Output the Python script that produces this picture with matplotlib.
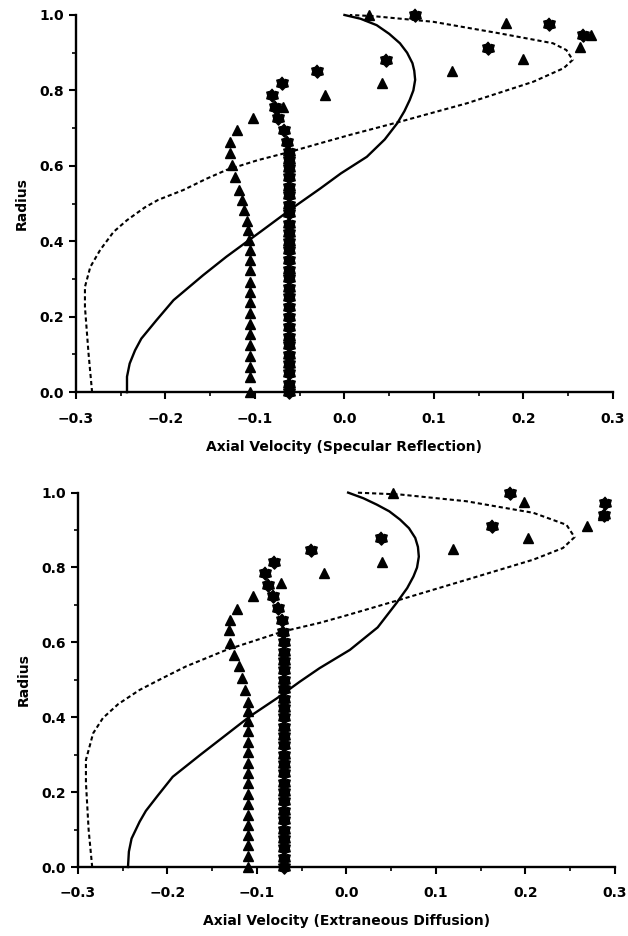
import matplotlib
matplotlib.use("Agg")
import matplotlib.pyplot as plt
from matplotlib.ticker import MultipleLocator
import numpy as np

plt.rcParams['font.family'] = ['DejaVu Sans']
plt.rcParams['font.weight'] = 'bold'
plt.rcParams['axes.labelweight'] = 'bold'

# ---------- top panel: specular reflection ----------
top_solid_r = [0.0, 0.041, 0.076, 0.111, 0.142, 0.191, 0.244, 0.31, 0.359, 0.399, 0.425,
               0.49, 0.54, 0.58, 0.624, 0.67, 0.713, 0.745, 0.775, 0.80, 0.828, 0.852, 0.872,
               0.90, 0.925, 0.95, 0.973, 0.99, 1.0]
top_solid_v = [-0.243, -0.243, -0.240, -0.234, -0.227, -0.210, -0.191, -0.158, -0.132, -0.109, -0.094,
               -0.057, -0.027, -0.004, 0.025, 0.045, 0.059, 0.067, 0.073, 0.077, 0.079, 0.078, 0.076,
               0.070, 0.062, 0.050, 0.036, 0.018, 0.0]

top_dash_r = [0.0, 0.103, 0.226, 0.279, 0.332, 0.377, 0.425, 0.456, 0.49, 0.51, 0.536, 0.565,
              0.589, 0.615, 0.637, 0.66, 0.682, 0.717, 0.766, 0.823, 0.859, 0.881, 0.907, 0.925,
              0.951, 0.982, 0.997, 1.0]
top_dash_v = [-0.282, -0.286, -0.290, -0.290, -0.284, -0.273, -0.258, -0.243, -0.223, -0.208, -0.180, -0.155,
              -0.132, -0.097, -0.061, -0.027, 0.006, 0.062, 0.137, 0.211, 0.245, 0.255, 0.248, 0.233,
              0.174, 0.099, 0.032, 0.006]

top_tri_r = [0.0, 0.04, 0.067, 0.097, 0.125, 0.155, 0.182, 0.21, 0.24, 0.266, 0.293, 0.323, 0.35,
             0.377, 0.403, 0.43, 0.455, 0.482, 0.509, 0.537, 0.571, 0.602, 0.633, 0.662, 0.695,
             0.726, 0.757, 0.788, 0.819, 0.852, 0.882, 0.916, 0.947, 0.978, 1.0]
top_tri_v = [-0.106, -0.106, -0.106, -0.106, -0.106, -0.106, -0.106, -0.106, -0.106, -0.106, -0.106, -0.106, -0.106,
             -0.106, -0.107, -0.108, -0.109, -0.112, -0.115, -0.118, -0.122, -0.126, -0.128, -0.128, -0.120,
             -0.102, -0.069, -0.022, 0.042, 0.120, 0.200, 0.263, 0.275, 0.181, 0.027]

top_star_r = [0.0, 0.023, 0.05, 0.076, 0.098, 0.125, 0.147, 0.173, 0.20, 0.226, 0.253, 0.275, 0.302,
              0.324, 0.35, 0.377, 0.399, 0.421, 0.447, 0.474, 0.496, 0.523, 0.545, 0.571, 0.593,
              0.615, 0.637, 0.664, 0.695, 0.726, 0.757, 0.788, 0.819, 0.852, 0.881, 0.913, 0.947,
              0.976, 1.0]
top_star_v = [-0.062, -0.062, -0.062, -0.062, -0.062, -0.062, -0.062, -0.062, -0.062, -0.062, -0.062, -0.062, -0.062,
              -0.062, -0.062, -0.062, -0.062, -0.062, -0.062, -0.062, -0.062, -0.062, -0.062, -0.062, -0.062,
              -0.062, -0.062, -0.064, -0.068, -0.074, -0.078, -0.081, -0.070, -0.031, 0.046, 0.160, 0.266,
              0.229, 0.079]

# ---------- bottom panel: extraneous diffusion ----------
bot_solid_r = [0.0, 0.041, 0.076, 0.121, 0.15, 0.19, 0.241, 0.30, 0.35, 0.402, 0.45, 0.495, 0.531, 0.58,
               0.64, 0.705, 0.745, 0.776, 0.80, 0.829, 0.855, 0.879, 0.905, 0.928, 0.95, 0.968, 0.985, 1.0]
bot_solid_v = [-0.244, -0.243, -0.240, -0.231, -0.224, -0.211, -0.194, -0.163, -0.136, -0.108, -0.078, -0.052, -0.030,
               0.004, 0.035, 0.056, 0.068, 0.075, 0.079, 0.081, 0.080, 0.077, 0.070, 0.060, 0.048, 0.034, 0.019, 0.002]

bot_dash_r = [0.0, 0.10, 0.226, 0.286, 0.33, 0.357, 0.398, 0.435, 0.473, 0.505, 0.536, 0.58, 0.629,
              0.652, 0.672, 0.714, 0.767, 0.821, 0.852, 0.881, 0.914, 0.946, 0.977, 0.995, 1.0]
bot_dash_v = [-0.284, -0.288, -0.291, -0.291, -0.286, -0.283, -0.272, -0.255, -0.231, -0.205, -0.179, -0.134, -0.071,
              -0.030, 0.0, 0.060, 0.134, 0.209, 0.242, 0.255, 0.246, 0.209, 0.134, 0.060, 0.011]

bot_tri_r = [0.0, 0.03, 0.058, 0.085, 0.113, 0.14, 0.168, 0.196, 0.224, 0.251, 0.279, 0.307, 0.334,
             0.362, 0.39, 0.416, 0.442, 0.473, 0.504, 0.536, 0.567, 0.598, 0.634, 0.660, 0.689,
             0.723, 0.758, 0.785, 0.816, 0.849, 0.880, 0.910, 0.941, 0.974, 1.0]
bot_tri_v = [-0.110, -0.110, -0.110, -0.110, -0.110, -0.110, -0.110, -0.110, -0.110, -0.110, -0.110, -0.110, -0.110,
             -0.110, -0.110, -0.110, -0.110, -0.113, -0.117, -0.120, -0.125, -0.130, -0.131, -0.130, -0.122,
             -0.104, -0.073, -0.025, 0.040, 0.119, 0.203, 0.269, 0.287, 0.198, 0.052]

bot_star_r = [0.0, 0.024, 0.05, 0.075, 0.10, 0.125, 0.15, 0.175, 0.20, 0.225, 0.25, 0.275, 0.30,
              0.325, 0.35, 0.375, 0.40, 0.425, 0.45, 0.475, 0.50, 0.525, 0.55, 0.575, 0.60,
              0.629, 0.660, 0.692, 0.723, 0.754, 0.785, 0.816, 0.848, 0.879, 0.910, 0.941, 0.972, 1.0]
bot_star_v = [-0.070, -0.070, -0.070, -0.070, -0.070, -0.070, -0.070, -0.070, -0.070, -0.070, -0.070, -0.070, -0.070,
              -0.070, -0.070, -0.070, -0.070, -0.070, -0.070, -0.070, -0.070, -0.070, -0.070, -0.070, -0.070,
              -0.071, -0.072, -0.076, -0.082, -0.087, -0.091, -0.081, -0.039, 0.039, 0.163, 0.288, 0.289, 0.183]

xticks = [-0.3, -0.2, -0.1, 0.0, 0.1, 0.2, 0.3]
yticks = [0.0, 0.2, 0.4, 0.6, 0.8, 1.0]

# fat six-pointed star, like the blobby hexagrams of the scan
ang = np.pi / 2 + np.arange(12) * np.pi / 6
rad = np.where(np.arange(12) % 2 == 0, 1.0, 0.72)
star = list(zip(rad * np.cos(ang), rad * np.sin(ang)))

panels = [
    ([0.121, 0.581, 0.855, 0.403], "Axial Velocity (Specular Reflection)",
     top_solid_r, top_solid_v, top_dash_r, top_dash_v, top_tri_r, top_tri_v, top_star_r, top_star_v),
    ([0.124, 0.0737, 0.855, 0.40], "Axial Velocity (Extraneous Diffusion)",
     bot_solid_r, bot_solid_v, bot_dash_r, bot_dash_v, bot_tri_r, bot_tri_v, bot_star_r, bot_star_v),
]

fig = plt.figure(figsize=(6.28, 9.36), dpi=100)

for rect, xlabel, sr, sv, dr, dv, tr, tv, str_, stv in panels:
    ax = fig.add_axes(rect)
    ax.plot(sv, sr, color='black', lw=1.7, solid_joinstyle='round', clip_on=False)
    ax.plot(dv, dr, color='black', lw=1.5, linestyle=(0, (2.0, 1.4)), clip_on=False)
    ax.plot(tv, tr, linestyle='none', marker='^', ms=7.5, color='black', clip_on=False)
    ax.plot(stv, str_, linestyle='none', marker=star, ms=9.5, color='black', clip_on=False)

    ax.set_xlim(-0.3, 0.3)
    ax.set_ylim(0.0, 1.0)
    ax.set_xticks(xticks)
    ax.set_yticks(yticks)
    ax.set_xticklabels(['\u22120.3', '\u22120.2', '\u22120.1', '0.0', '0.1', '0.2', '0.3'])
    ax.set_yticklabels(['0.0', '0.2', '0.4', '0.6', '0.8', '1.0'])
    ax.xaxis.set_minor_locator(MultipleLocator(0.05))
    ax.yaxis.set_minor_locator(MultipleLocator(0.1))
    for s in ['top', 'right']:
        ax.spines[s].set_visible(False)
    for s in ['left', 'bottom']:
        ax.spines[s].set_linewidth(1.7)
    ax.tick_params(which='major', direction='out', length=5, width=1.5, labelsize=10)
    ax.tick_params(axis='x', which='major', pad=9)
    ax.tick_params(which='minor', direction='out', length=3, width=1.2)
    ax.set_xlabel(xlabel, fontsize=10, fontweight='bold', labelpad=10)
    ax.set_ylabel("Radius", fontsize=10, fontweight='bold', labelpad=8)

fig.savefig("out.png", dpi=100)
